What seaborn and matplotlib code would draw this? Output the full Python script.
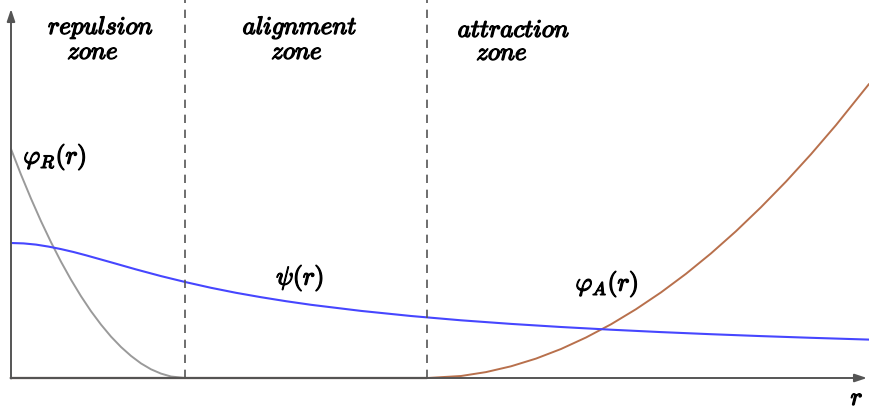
import matplotlib
matplotlib.use("Agg")
import matplotlib.pyplot as plt
import matplotlib.patheffects as pe
import seaborn as sns
import pandas as pd

sns.set_theme(style="white")
plt.rcParams["mathtext.fontset"] = "cm"

# ---- data ----
r_R = [0.0, 0.1, 0.2, 0.3, 0.4, 0.5, 0.6, 0.7, 0.8, 0.9, 1.0, 1.1, 1.2, 1.3, 1.4, 1.5, 1.6, 1.74]
phi_R = [2.29, 2.034, 1.794, 1.568, 1.358, 1.163, 0.983, 0.818, 0.668, 0.534, 0.414, 0.310,
         0.221, 0.146, 0.087, 0.044, 0.015, 0.0]

r_psi = [0.0, 0.125, 0.25, 0.375, 0.5, 0.625, 0.75, 1.0, 1.25, 1.5, 1.75, 2.0, 2.25, 2.5,
         2.75, 3.0, 3.5, 4.0, 4.5, 5.0, 5.5, 6.0, 6.5, 7.0, 7.5, 8.0, 8.58]
psi = [1.35, 1.346, 1.334, 1.314, 1.289, 1.260, 1.227, 1.157, 1.086, 1.019, 0.958, 0.902,
       0.852, 0.808, 0.768, 0.732, 0.671, 0.620, 0.577, 0.541, 0.510, 0.483, 0.459, 0.438,
       0.419, 0.402, 0.384]

r_A = [0.0, 4.16, 4.5, 4.75, 5.0, 5.25, 5.5, 5.75, 6.0, 6.25, 6.5, 6.75, 7.0, 7.25, 7.5,
       7.75, 8.0, 8.25, 8.58]
phi_A = [0.0, 0.0, 0.020, 0.059, 0.117, 0.194, 0.290, 0.405, 0.537, 0.688, 0.856, 1.042,
         1.246, 1.468, 1.708, 1.964, 2.238, 2.529, 2.94]

zone_bounds = [1.74, 4.16]
zone_names = ["repulsion", "alignment", "attraction"]

# ---- figure ----
fig = plt.figure(figsize=(8.69, 4.10), dpi=100)
ax = fig.add_axes([0, 0, 1, 1])
ax.set_xlim(-0.11, 8.58)
ax.set_ylim(-0.31, 3.79)
ax.axis("off")

df_R = pd.DataFrame({"r": r_R, "v": phi_R})
df_psi = pd.DataFrame({"r": r_psi, "v": psi})
df_A = pd.DataFrame({"r": r_A, "v": phi_A})

sns.lineplot(data=df_R, x="r", y="v", ax=ax, color="#9a9a9a", lw=1.4, sort=False)
sns.lineplot(data=df_A, x="r", y="v", ax=ax, color="#b8704c", lw=1.4, sort=False)
sns.lineplot(data=df_psi, x="r", y="v", ax=ax, color="#4646ff", lw=1.5, sort=False)

for xb in zone_bounds:
    ax.plot([xb, xb], [0, 3.79], color="#555555", lw=1.2, ls=(0, (5, 4)))

# axes arrows
arrow = dict(arrowstyle="-|>,head_length=0.6,head_width=0.2", color="#555555", lw=1.4,
             shrinkA=0, shrinkB=0)
ax.annotate("", xy=(8.56, 0), xytext=(-0.005, 0), arrowprops=arrow)
ax.annotate("", xy=(0, 3.69), xytext=(0, -0.005), arrowprops=arrow)
ax.plot([0, 4.16], [0, 0], color="#5a3e30", lw=1.6)

def lab(x, y, s, size=18, ha="center", sw=0.9):
    ax.text(x, y, s, fontsize=size, ha=ha, va="center", color="black",
            path_effects=[pe.withStroke(linewidth=sw, foreground="black")])

# zone labels
lab(0.90, 3.50, r"$%s$" % zone_names[0])
lab(0.82, 3.26, r"$zone$")
lab(2.89, 3.50, r"$%s$" % zone_names[1])
lab(2.86, 3.26, r"$zone$")
lab(5.03, 3.48, r"$%s$" % zone_names[2])
lab(4.91, 3.25, r"$zone$")

# curve labels
lab(0.44, 2.21, r"$\varphi_R(r)$", size=18.5)
lab(2.89, 1.00, r"$\psi(r)$", size=18.5)
lab(5.96, 0.94, r"$\varphi_A(r)$", size=18.5)
lab(8.46, -0.20, r"$r$", size=18)

fig.savefig("out.png", dpi=100)
